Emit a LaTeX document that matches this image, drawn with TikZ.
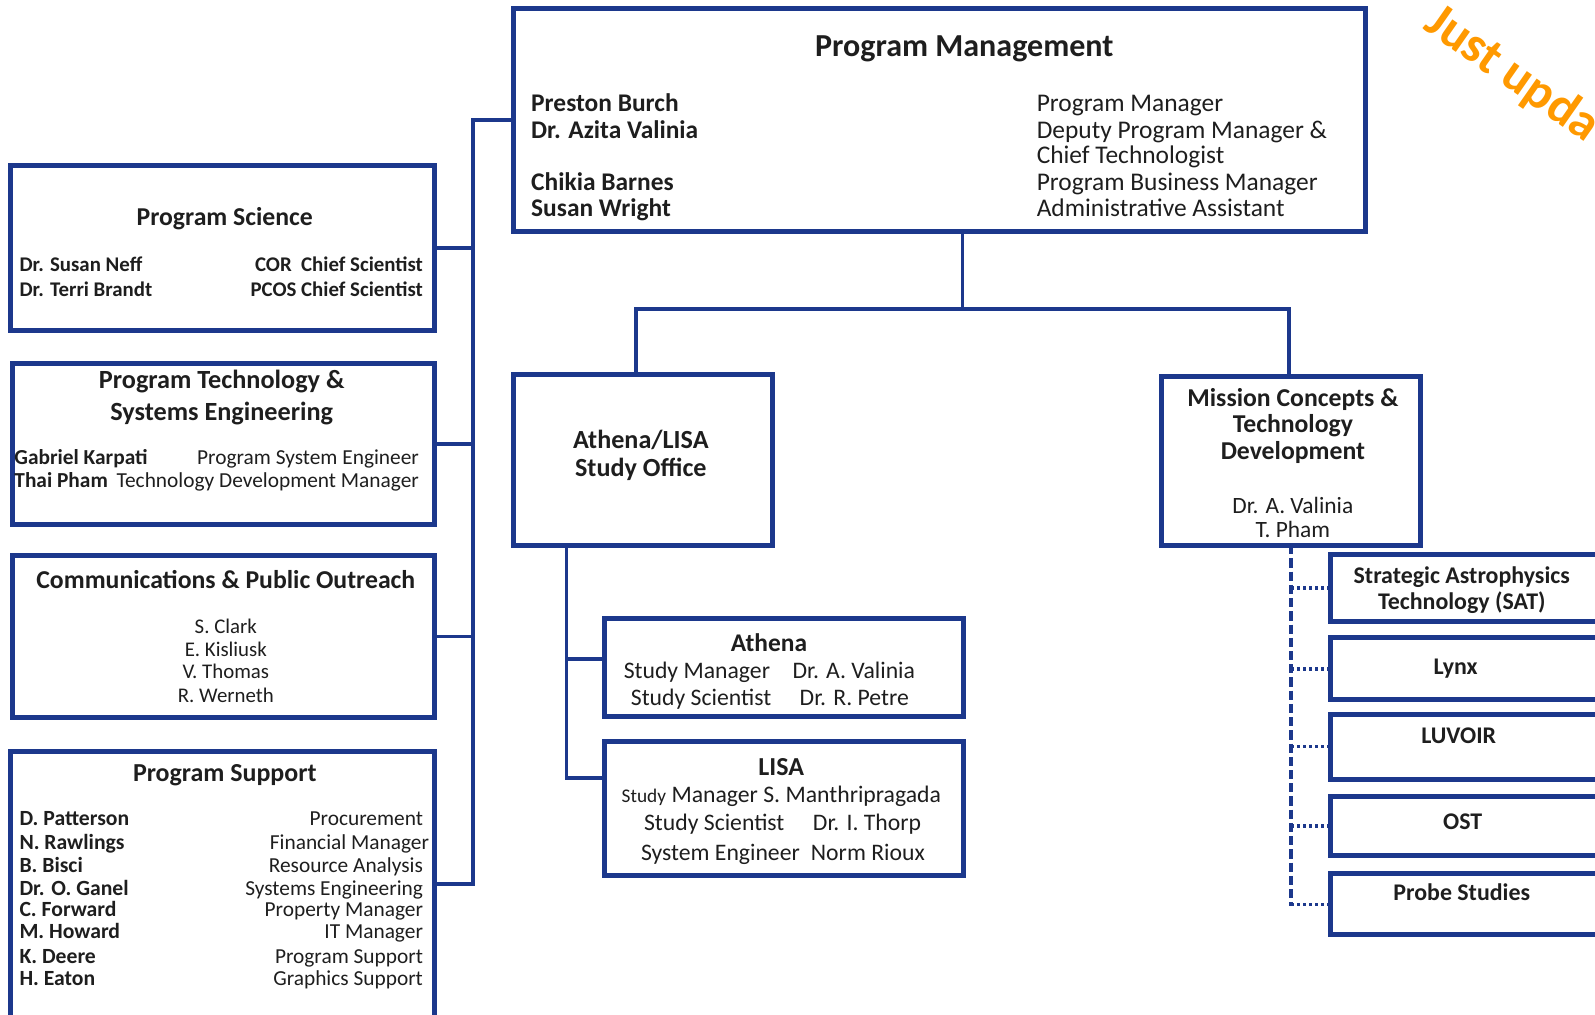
\documentclass[tikz,border=0pt]{standalone}
\usepackage{fontspec}
\setmainfont{Carlito}
\definecolor{bx}{RGB}{28,56,140}
\definecolor{tx}{RGB}{30,30,30}
\definecolor{og}{RGB}{255,153,0}
\newcommand{\fsz}[1]{\fontsize{#1}{#1}\selectfont}
\begin{document}
\begin{tikzpicture}[x=1pt,y=-1pt,
  box/.style={draw=bx,line width=5pt,inner sep=0pt,outer sep=0pt,anchor=north west},
  conn/.style={draw=bx,line width=3.5pt},
  dconn/.style={draw=bx,line width=3.5pt,dash pattern=on 9pt off 4pt},
  dotconn/.style={draw=bx,line width=3.5pt,dash pattern=on 3pt off 3pt},
  tt/.style={inner sep=0pt,text=tx,anchor=base},
  tl/.style={inner sep=0pt,text=tx,anchor=base west},
  tr/.style={inner sep=0pt,text=tx,anchor=base east}]
\useasboundingbox (0,0) rectangle (1568,997);
\clip (0,0) rectangle (1568,997);

% boxes
\node[box,minimum width=837,minimum height=220] (pm) at (505,8) {};
\node[box,minimum width=417,minimum height=162] (ps) at (10,163) {};
\node[box,minimum width=415,minimum height=159] (pt) at (12,357) {};
\node[box,minimum width=415,minimum height=159] (cm) at (12,546) {};
\node[box,minimum width=417,minimum height=300] (su) at (10,739) {};
\node[box,minimum width=254,minimum height=168] (als) at (505,368) {};
\node[box,minimum width=353,minimum height=96] (ath) at (594,608) {};
\node[box,minimum width=353,minimum height=132] (lisa) at (594,729) {};
\node[box,minimum width=254,minimum height=166] (mc) at (1142,370) {};
\node[box,minimum width=290,minimum height=66] (r1) at (1308,545) {};
\node[box,minimum width=290,minimum height=61] (r2) at (1308,627) {};
\node[box,minimum width=290,minimum height=64] (r3) at (1308,702) {};
\node[box,minimum width=290,minimum height=58] (r4) at (1308,783) {};
\node[box,minimum width=290,minimum height=60] (r5) at (1308,859) {};

% connectors
\coordinate (spTop) at (465,118);
\coordinate (spBot) at (465,869);
\draw[conn] (pm.west) -- (spTop) -- (spBot) -- (spBot -| su.east);
\draw[conn] (ps.east) -- (ps.east -| spTop);
\draw[conn] (pt.east) -- (pt.east -| spTop);
\draw[conn] (cm.east) -- (cm.east -| spTop);
\coordinate (hub) at (946,304);
\coordinate (hL) at (625,304);
\coordinate (hR) at (1267,304);
\draw[conn] (hub |- pm.south) -- (hub);
\draw[conn] (hL |- als.north) -- (hL) -- (hR) -- (hR |- mc.north);
\coordinate (aA) at (557,648);
\coordinate (aL) at (557,765);
\draw[conn] (aA |- als.south) -- (aL) -- (aL -| lisa.west);
\draw[conn] (aA) -- (aA -| ath.west);
\coordinate (mv) at (1269,891);
\draw[dconn] (mv |- mc.south) -- (mv);
\foreach \r in {r1,r2,r3,r4,r5}
  \draw[dotconn] (\r.west -| mv) -- (\r.west);

% Program Management
\node[tt,font=\bfseries\fsz{31.5}] (pmT) at (948,56) {Program Management};
\foreach \t/\y [count=\i] in {Preston Burch/110,Dr. Azita Valinia/136,Chikia Barnes/187,Susan Wright/213}
  \node[tl,font=\bfseries\fsz{25}] (pmL\i) at (522,\y) {\t};
\foreach \t/\y [count=\i] in {Program Manager/110,Deputy Program Manager \&/136,Chief Technologist/161,Program Business Manager/187,Administrative Assistant/213}
  \node[tl,font=\fsz{25}] (pmR\i) at (1019,\y) {\t};

% Program Science
\node[tt,font=\bfseries\fsz{25.3}] (psT) at (221,222) {Program Science};
\node[tl,font=\bfseries\fsz{20.5}] (psL1) at (19,267) {Dr. Susan Neff};
\node[tl,font=\bfseries\fsz{20.5}] (psL2) at (19,291) {Dr. Terri Brandt};
\node[tr,font=\bfseries\fsz{20.5}] (psR1) at (416,267) {COR\ \ Chief Scientist};
\node[tr,font=\bfseries\fsz{20.5}] (psR2) at (416,291) {PCOS Chief Scientist};

% Program Technology
\node[tt,font=\bfseries\fsz{25.8}] (ptT1) at (218,382) {Program Technology \&};
\node[tt,font=\bfseries\fsz{25.8}] (ptT2) at (218,413) {Systems Engineering};
\node[tl,font=\bfseries\fsz{21}] (ptL1) at (14,457) {Gabriel Karpati};
\node[tl,font=\bfseries\fsz{21}] (ptL2) at (14,479) {Thai Pham};
\node[tr,font=\fsz{21}] (ptR1) at (412,457) {Program System Engineer};
\node[tr,font=\fsz{21}] (ptR2) at (412,479) {Technology Development Manager};

% Communications
\node[tt,font=\bfseries\fsz{25.3}] (cmT) at (222,579) {Communications \& Public Outreach};
\foreach \t/\y [count=\i] in {S. Clark/623,E. Kisliusk/645,V. Thomas/667,R. Werneth/691}
  \node[tt,font=\fsz{20.5}] (cmN\i) at (222,\y) {\t};

% Program Support
\node[tt,font=\bfseries\fsz{25.5}] (suT) at (221,768) {Program Support};
\foreach \t/\y [count=\i] in {D. Patterson/812,N. Rawlings/835,B. Bisci/858,Dr. O. Ganel/880,C. Forward/901,M. Howard/923,K. Deere/947,H. Eaton/969}
  \node[tl,font=\bfseries\fsz{21.3}] (suL\i) at (19,\y) {\t};
\foreach \t/\y/\x [count=\i] in {Procurement/812/416,Financial Manager/835/422,Resource Analysis/858/416,Systems Engineering/880/416,Property Manager/901/416,IT Manager/923/416,Program Support/947/416,Graphics Support/969/416}
  \node[tr,font=\fsz{21}] (suR\i) at (\x,\y) {\t};

% Athena/LISA Study Office
\node[tt,font=\bfseries\fsz{25.7}] (alsT1) at (630,441) {Athena/LISA};
\node[tt,font=\bfseries\fsz{25.7}] (alsT2) at (630,468) {Study Office};

% Athena
\node[tt,font=\bfseries\fsz{25}] (athT) at (756,640) {Athena};
\node[tl,font=\fsz{23.3}] (athA1) at (613,667) {Study Manager};
\node[tl,font=\fsz{23.3}] (athB1) at (779,667) {Dr. A. Valinia};
\node[tl,font=\fsz{23.3}] (athA2) at (620,694) {Study Scientist};
\node[tl,font=\fsz{23.3}] (athB2) at (786,694) {Dr. R. Petre};

% LISA
\node[tt,font=\bfseries\fsz{25.5}] (lisaT) at (768,762) {LISA};
\node[tl,font=\fsz{23.3}] (lisaA1) at (611,789) {{\fsz{19}Study} Manager S. Manthripragada};
\node[tl,font=\fsz{23.3}] (lisaA2) at (633,816) {Study Scientist};
\node[tl,font=\fsz{23.3}] (lisaB2) at (799,816) {Dr. I. Thorp};
\node[tl,font=\fsz{23.3}] (lisaA3) at (630,846) {System Engineer};
\node[tl,font=\fsz{23.3}] (lisaB3) at (797,846) {Norm Rioux};

% Mission Concepts
\node[tt,font=\bfseries\fsz{25.3}] (mcT1) at (1271,400) {Mission Concepts \&};
\node[tt,font=\bfseries\fsz{25.3}] (mcT2) at (1271,425) {Technology};
\node[tt,font=\bfseries\fsz{25.3}] (mcT3) at (1271,452) {Development};
\node[tt,font=\fsz{23}] (mcN1) at (1271,505) {Dr. A. Valinia};
\node[tt,font=\fsz{23}] (mcN2) at (1271,528) {T. Pham};

% right boxes
\node[tt,font=\bfseries\fsz{23.5}] (r1T1) at (1437,574) {Strategic Astrophysics};
\node[tt,font=\bfseries\fsz{23.5}] (r1T2) at (1437,599) {Technology (SAT)};
\node[tt,font=\bfseries\fsz{23.5}] (r2T) at (1431,663) {Lynx};
\node[tt,font=\bfseries\fsz{23.5}] (r3T) at (1434,731) {LUVOIR};
\node[tt,font=\bfseries\fsz{23.5}] (r4T) at (1438,815) {OST};
\node[tt,font=\bfseries\fsz{23.5}] (r5T) at (1437,885) {Probe Studies};

% stamp
\node[inner sep=0pt,anchor=base west,rotate=-35,text=og,font=\bfseries\fsz{50}] (upd) at (1398,28) {Just upda};
\end{tikzpicture}
\end{document}
